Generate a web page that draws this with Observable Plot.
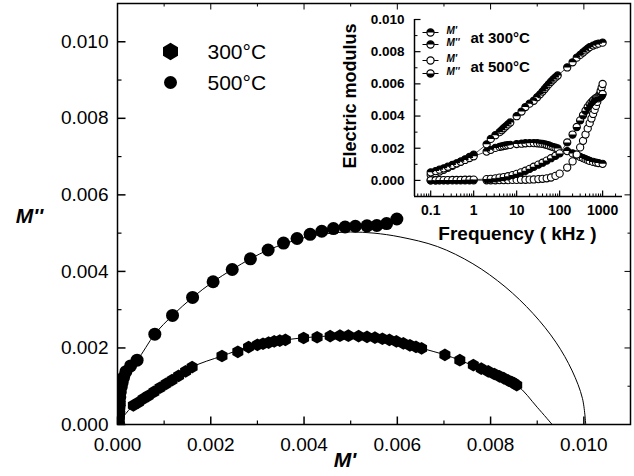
<!DOCTYPE html>
<html><head><meta charset="utf-8">
<script src="https://cdn.jsdelivr.net/npm/d3@7"></script>
<script src="https://cdn.jsdelivr.net/npm/@observablehq/plot@0.6"></script>
<style>
body{margin:0;background:#fff;}
#wrap{position:relative;width:634px;height:476px;background:#fff;}
#inset{position:absolute;left:330px;top:0;}
</style></head><body><div id="wrap"><div id="main"></div><div id="inset"></div></div>
<script>
// ---------- data ----------
const freq300 = [0.1,0.13,0.16,0.2,0.25,0.32,0.4,0.5,0.63,0.8,1,2,2.5,3.2,4,4.5,5,5.6,6.3,7.1,10,13,16,20,25,30,35,40,45,50,56,63,71,80,90,150,200,250,300,350,400,450,500,600,700,800,1000];
const m1_300 = [0.00034,0.00045,0.00055,0.00066,0.00078,0.00091,0.00104,0.00117,0.00131,0.00146,0.00160,0.00224,0.00258,0.00281,0.00300,0.00312,0.00324,0.00336,0.00348,0.00360,0.00399,0.00428,0.00456,0.00477,0.00495,0.00517,0.00535,0.00552,0.00568,0.00583,0.00598,0.00613,0.00627,0.00640,0.00652,0.00702,0.00734,0.00763,0.00780,0.00795,0.00808,0.00819,0.00828,0.00838,0.00845,0.00850,0.00856];
const m2_300 = [0.00050,0.00058,0.00067,0.00075,0.00085,0.00096,0.00106,0.00116,0.00127,0.00139,0.00150,0.00179,0.00190,0.00202,0.00208,0.00211,0.00214,0.00217,0.00219,0.00221,0.00226,0.00228,0.00231,0.00232,0.00232,0.00231,0.00229,0.00227,0.00224,0.00221,0.00217,0.00212,0.00207,0.00203,0.00199,0.00182,0.00168,0.00155,0.00146,0.00139,0.00132,0.00126,0.00121,0.00115,0.00111,0.00108,0.00103];

const freq500 = [0.1,0.13,0.16,0.2,0.25,0.32,0.4,0.5,0.63,0.8,1,2,2.5,3.2,4,5,6.3,8,10,12.6,16,20,25,32,40,50,63,80,100,150,200,250,300,350,400,450,500,550,600,650,700,750,800,850,900,950,1000];
const m1_500 = [0,0,0,0,0,0,0.00001,0.00001,0.00001,0.00001,0.00001,0.00001,0.00001,0.00001,0.00002,0.00002,0.00002,0.00003,0.00003,0.00004,0.00004,0.00005,0.00006,0.00008,0.0001,0.00013,0.00018,0.00028,0.00042,0.0008,0.00118,0.00161,0.00205,0.00246,0.00285,0.00323,0.00356,0.00385,0.00413,0.00438,0.00463,0.00488,0.0051,0.00535,0.00556,0.00577,0.00599];
const m2_500 = [0.00001,0.00001,0.00002,0.00002,0.00002,0.00003,0.00003,0.00003,0.00004,0.00004,0.00005,0.00008,0.0001,0.00013,0.00017,0.00021,0.00026,0.00033,0.00041,0.0005,0.0006,0.00072,0.00085,0.00098,0.0011,0.00123,0.00138,0.00153,0.00168,0.00236,0.00285,0.00332,0.00373,0.00405,0.00433,0.00456,0.00474,0.00486,0.00497,0.00505,0.00512,0.00516,0.00518,0.00519,0.0052,0.00525,0.00537];

// fitted arcs
const fit500_m1 = [0,0.00002,0.00006,0.00018,0.00042,0.0008,0.00118,0.00161,0.00205,0.00246,0.00285,0.00323,0.00358,0.0040,0.0045,0.0050,0.0055,0.00606,0.00686,0.00762,0.00831,0.00891,0.0094,0.00975,0.00997,0.01004];
const fit500_m2 = [0,0.0005,0.001,0.0014,0.00168,0.00236,0.00285,0.00332,0.00373,0.00405,0.00433,0.00456,0.00472,0.00488,0.00499,0.00503,0.00500,0.00490,0.00465,0.00420,0.00360,0.00290,0.00215,0.00140,0.00068,0];
const fit300_m1 = [0,0.00034,0.0008,0.0012,0.0016,0.00224,0.00281,0.0036,0.0045,0.0050,0.0055,0.0060,0.0065,0.00702,0.00734,0.0080,0.00856,0.0090,0.00932];
const fit300_m2 = [0,0.0005,0.00085,0.00116,0.0015,0.00179,0.00202,0.00221,0.00231,0.00232,0.00227,0.00217,0.0020,0.00182,0.00168,0.00134,0.00103,0.00045,0];

const mainTicks = [0,0.002,0.004,0.006,0.008,0.010];
const mainMinor = [0.001,0.003,0.005,0.007,0.009];
const insetYTicks = [0,0.002,0.004,0.006,0.008,0.010];
const insetYMinor = [-0.001,0.001,0.003,0.005,0.007,0.009];
const insetXTicks = [0.1,1,10,100,1000];
const insetXMinor = [0.05,0.06,0.07,0.08,0.09,0.2,0.3,0.4,0.5,0.6,0.7,0.8,0.9,2,3,4,5,6,7,8,9,20,30,40,50,60,70,80,90,200,300,400,500,600,700,800,900,2000];
const legendMain = ["300°C","500°C"];
const insetSeries = ["M'","M''","M'","M''"];
const insetTemps = ["at 300°C","at 500°C"];

// ---------- helpers ----------
const font = "'Liberation Sans', Arial, Helvetica, sans-serif";
const tickSym = (dx, dy) => ({draw(ctx){ ctx.moveTo(0,0); ctx.lineTo(dx,dy); }});
const lineSym = (w) => ({draw(ctx){ ctx.moveTo(-w,0); ctx.lineTo(w,0); }});
const halfTop = {draw(ctx,size){const r=Math.sqrt(size/Math.PI); ctx.moveTo(r,0); ctx.arc(0,0,r,0,Math.PI,true); ctx.closePath();}};
const halfBot = {draw(ctx,size){const r=Math.sqrt(size/Math.PI); ctx.moveTo(r,0); ctx.arc(0,0,r,0,Math.PI,false); ctx.closePath();}};
const pairs = (a,b) => a.map((x,i)=>({x, y:b[i]}));

const d300 = pairs(m1_300, m2_300);
const d500 = pairs(m1_500, m2_500);
const f500 = pairs(fit500_m1, fit500_m2);
const f300 = pairs(fit300_m1, fit300_m2);

// ---------- main chart ----------
const fmt3 = d3.format(".3f");
const main = Plot.plot({
  width: 634, height: 476,
  marginLeft: 117, marginRight: 4, marginTop: 3, marginBottom: 52,
  style: {fontFamily: font, background: "white", color: "black"},
  x: {domain: [0, 0.011]},
  y: {domain: [0, 0.011]},
  marks: [
    Plot.frame({stroke: "black", strokeWidth: 1.5}),
    Plot.axisX(mainTicks, {tickSize: 0, tickPadding: 13, tickFormat: fmt3, fontSize: 19, label: null}),
    Plot.axisY(mainTicks, {tickSize: 0, tickPadding: 9, tickFormat: fmt3, fontSize: 19, label: null}),
    Plot.dot(mainTicks, {x: d=>d, y: ()=>0, symbol: tickSym(0,-8), stroke: "black", fill: "none", strokeWidth: 1.5}),
    Plot.dot(mainMinor, {x: d=>d, y: ()=>0, symbol: tickSym(0,-4), stroke: "black", fill: "none", strokeWidth: 1.2}),
    Plot.dot(mainTicks, {x: d=>d, y: ()=>0.011, symbol: tickSym(0,6), stroke: "black", fill: "none", strokeWidth: 1}),
    Plot.dot(mainMinor, {x: d=>d, y: ()=>0.011, symbol: tickSym(0,3), stroke: "black", fill: "none", strokeWidth: 1}),
    Plot.dot(mainTicks, {x: ()=>0, y: d=>d, symbol: tickSym(8,0), stroke: "black", fill: "none", strokeWidth: 1.5}),
    Plot.dot(mainMinor, {x: ()=>0, y: d=>d, symbol: tickSym(4,0), stroke: "black", fill: "none", strokeWidth: 1.2}),
    Plot.dot(mainTicks, {x: ()=>0.011, y: d=>d, symbol: tickSym(-6,0), stroke: "black", fill: "none", strokeWidth: 1}),
    Plot.dot(mainMinor, {x: ()=>0.011, y: d=>d, symbol: tickSym(-3,0), stroke: "black", fill: "none", strokeWidth: 1}),
    Plot.line(f500, {x: "x", y: "y", curve: "catmull-rom", stroke: "black", strokeWidth: 1}),
    Plot.line(f300, {x: "x", y: "y", curve: "catmull-rom", stroke: "black", strokeWidth: 1}),
    Plot.dot(d500, {x: "x", y: "y", r: 6.5, fill: "black", stroke: "none", clip: true}),
    Plot.dot(d300, {x: "x", y: "y", r: 5.5, symbol: "hexagon", fill: "black", stroke: "none", clip: true}),
    // legend
    Plot.dot([legendMain[0]], {frameAnchor: "top-left", dx: 53, dy: 48, symbol: "hexagon", r: 7.5, fill: "black"}),
    Plot.dot([legendMain[1]], {frameAnchor: "top-left", dx: 53, dy: 79, r: 6.5, fill: "black"}),
    Plot.text([legendMain[0]], {frameAnchor: "top-left", dx: 90, dy: 49, text: d=>d, textAnchor: "start", lineAnchor: "middle", fontSize: 21}),
    Plot.text([legendMain[1]], {frameAnchor: "top-left", dx: 90, dy: 80, text: d=>d, textAnchor: "start", lineAnchor: "middle", fontSize: 21}),
    // axis titles
    Plot.text(["M''"], {frameAnchor: "left", dx: -88, dy: 2, text: d=>d, textAnchor: "middle", lineAnchor: "middle", fontSize: 21, fontWeight: "bold", fontStyle: "italic"}),
    Plot.text(["M'"], {frameAnchor: "bottom", dx: -29, dy: 36, text: d=>d, textAnchor: "middle", lineAnchor: "middle", fontSize: 21, fontWeight: "bold", fontStyle: "italic"})
  ]
});
document.getElementById("main").append(main);

// ---------- inset ----------
const inRows = [];
freq300.forEach((f,i)=>{ inRows.push({f, v: m1_300[i], s: 0}); });
freq300.forEach((f,i)=>{ inRows.push({f, v: m2_300[i], s: 1}); });
freq500.forEach((f,i)=>{ inRows.push({f, v: m1_500[i], s: 2}); });
freq500.forEach((f,i)=>{ inRows.push({f, v: m2_500[i], s: 3}); });
const halfOf = [halfTop, halfTop, null, halfBot];

const legendDy = [13, 25, 41, 54];
const legendMarks = [];
insetSeries.forEach((name, i) => {
  legendMarks.push(Plot.dot([name], {frameAnchor: "top-left", dx: 16, dy: legendDy[i], symbol: lineSym(8), stroke: "black", fill: "none", strokeWidth: 1}));
  legendMarks.push(Plot.dot([name], {frameAnchor: "top-left", dx: 16, dy: legendDy[i], r: 3.6, fill: "white", stroke: "black", strokeWidth: 1.2}));
  if (halfOf[i]) legendMarks.push(Plot.dot([name], {frameAnchor: "top-left", dx: 16, dy: legendDy[i], r: 3.6, symbol: halfOf[i], fill: "black", stroke: "none"}));
  legendMarks.push(Plot.text([name], {frameAnchor: "top-left", dx: 32, dy: legendDy[i] - 2, text: d=>d, textAnchor: "start", lineAnchor: "middle", fontSize: 10, fontWeight: "bold", fontStyle: "italic"}));
});
legendMarks.push(Plot.text([insetTemps[0]], {frameAnchor: "top-left", dx: 56, dy: 19, text: d=>d, textAnchor: "start", lineAnchor: "middle", fontSize: 15, fontWeight: "bold"}));
legendMarks.push(Plot.text([insetTemps[1]], {frameAnchor: "top-left", dx: 56, dy: 48, text: d=>d, textAnchor: "start", lineAnchor: "middle", fontSize: 15, fontWeight: "bold"}));

const seriesDots = [0,1,2,3].flatMap(s => {
  const rows = inRows.filter(d => d.s === s);
  const arr = [Plot.dot(rows, {x: "f", y: "v", r: 3.6, fill: "white", stroke: "black", strokeWidth: 1.1})];
  if (halfOf[s]) arr.push(Plot.dot(rows, {x: "f", y: "v", r: 3.6, symbol: halfOf[s], fill: "black", stroke: "none"}));
  return arr;
});

const inset = Plot.plot({
  width: 304, height: 245,
  marginLeft: 84, marginRight: 12, marginTop: 19, marginBottom: 49,
  style: {fontFamily: font, background: "transparent", color: "black", overflow: "visible"},
  x: {type: "log", domain: [0.042, 2900]},
  y: {domain: [-0.001, 0.010]},
  marks: [
    Plot.ruleX([0.042], {stroke: "black", strokeWidth: 1.5}),
    Plot.ruleY([-0.001], {stroke: "black", strokeWidth: 1.5}),
    Plot.axisX(insetXTicks, {tickSize: 0, tickPadding: 9, tickFormat: d => String(d), fontSize: 14, fontWeight: "bold", label: null}),
    Plot.axisY(insetYTicks, {tickSize: 0, tickPadding: 10, tickFormat: fmt3, fontSize: 13.5, fontWeight: "bold", label: null}),
    Plot.dot(insetXTicks, {x: d=>d, y: ()=>-0.001, symbol: tickSym(0,-6), stroke: "black", fill: "none", strokeWidth: 1.2}),
    Plot.dot(insetXMinor, {x: d=>d, y: ()=>-0.001, symbol: tickSym(0,-3), stroke: "black", fill: "none", strokeWidth: 1}),
    Plot.dot(insetYTicks, {x: ()=>0.042, y: d=>d, symbol: tickSym(6,0), stroke: "black", fill: "none", strokeWidth: 1.2}),
    Plot.dot(insetYMinor, {x: ()=>0.042, y: d=>d, symbol: tickSym(3,0), stroke: "black", fill: "none", strokeWidth: 1}),
    Plot.line(inRows, {x: "f", y: "v", z: "s", stroke: "black", strokeWidth: 0.7}),
    ...seriesDots,
    ...legendMarks,
    Plot.text(["Electric modulus"], {frameAnchor: "left", dx: -64, dy: -12, rotate: -90, text: d=>d, textAnchor: "middle", lineAnchor: "middle", fontSize: 18, fontWeight: "bold"}),
    Plot.text(["Frequency ( kHz )"], {frameAnchor: "bottom", dx: -1, dy: 37, text: d=>d, textAnchor: "middle", lineAnchor: "middle", fontSize: 19, fontWeight: "bold"})
  ]
});
document.getElementById("inset").append(inset);
</script>
</body></html>
